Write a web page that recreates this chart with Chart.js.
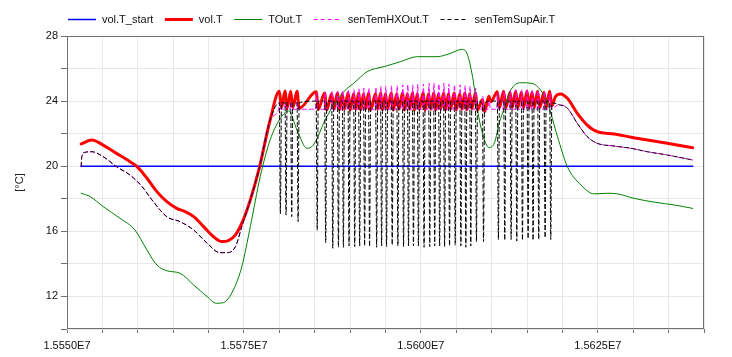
<!DOCTYPE html>
<html><head><meta charset="utf-8">
<script src="https://cdn.jsdelivr.net/npm/chart.js@4"></script>
<style>html,body{margin:0;padding:0;background:#fff;}#wrap{width:732px;height:357px;position:relative;}</style>
</head><body><div id="wrap"><canvas id="c"></canvas></div>
<script>
// ---------- data (time in s, temperature in °C) ----------
const xTickLabels = ['1.5550E7', '1.5575E7', '1.5600E7', '1.5625E7'];
const yTickLabels = ['12', '16', '20', '24', '28'];

// vol.T_start: constant
const startT = [15552000, 15638400];
const startV = [20, 20];

// TOut.T
const outT = [15552000,15553300,15555100,15557500,15559600,15561300,15562700,15564100,15566000,15567900,15569800,15571100,15572100,15573500,15574700,15575900,15577300,15578700,15580000,15581300,15582500,15583900,15584800,15586700,15588600,15589500,15590500,15592400,15594800,15597100,15599500,15602300,15604200,15605800,15606500,15607300,15608000,15608700,15609600,15610400,15611100,15611700,15612700,15614100,15615700,15616900,15617900,15619300,15620700,15622600,15624500,15626400,15627800,15630100,15633000,15635800,15638400];
const outV = [18.34,18.13,17.52,16.8,16.08,14.85,13.93,13.58,13.42,12.70,11.99,11.58,11.62,12.40,13.83,16.29,19.36,21.61,22.84,23.40,22.23,21.1,21.3,23.04,24.3,24.75,25.09,25.81,26.12,26.42,26.73,26.73,26.94,27.18,26.94,25.5,23.45,22.02,21.15,21.45,22.7,23.45,24.68,25.13,25.09,24.68,23.87,21.82,19.97,18.85,18.30,18.34,18.30,18.03,17.79,17.62,17.41];

// vol.T smooth parts
const volPreT = [15552000,15553500,15555100,15557000,15558900,15559900,15561300,15562700,15564100,15565500,15566700,15567900,15569300,15570700,15571900,15572800,15573800,15574900,15575900,15577100,15578700];
const volPreV = [21.37,21.61,21.30,20.79,20.28,19.97,19.26,18.44,17.82,17.41,17.21,16.90,16.29,15.67,15.37,15.43,15.78,16.70,17.93,19.77,22.84];
const volPostT = [15619000,15619700,15620700,15622100,15623500,15624900,15627300,15629700,15632000,15634800,15638400];
const volPostV = [24.27,24.44,24.17,23.25,22.53,22.12,21.98,21.78,21.61,21.41,21.14];

// senTemSupAir.T / senTemHXOut.T smooth parts (the two curves coincide there)
const supPreT = [15552000,15552100,15552500,15553500,15555100,15557000,15558900,15560600,15562200,15564100,15566000,15567900,15569800,15571600,15572600,15573800,15574700,15575900,15577100,15578700];
const supPreV = [20.0,20.6,20.85,20.89,20.59,19.97,19.46,18.75,17.82,16.90,16.59,16.08,15.27,14.69,14.69,15.06,16.29,17.93,19.77,22.84];
const supPostT = [15619500,15620700,15622100,15623500,15624900,15627300,15629700,15632000,15634800,15638400];
const supPostV = [23.78,23.56,22.64,21.82,21.41,21.24,21.10,20.89,20.69,20.38];

// on/off cycles of the coil: cycle start times and per-cycle levels
const cycT = [15580000,15580800,15581600,15582500,
  15585200,15586400,15587400,15588200,15588900,15589700,15590500,15591200,15591900,15592600,
  15593600,15594300,15595000,15595800,15596600,15597400,15598100,15598800,15599500,15600300,
  15601100,15601800,15602500,15603200,15603900,15604700,15605500,15606200,15606900,15607700,15608700,
  15609600,
  15610800,15611700,15612600,15613400,15614200,15615000,15615700,15616500,15617400,15618200];
const volPk = [24.6,24.62,24.6,24.6,
  24.58,24.5,24.45,24.5,24.45,24.5,24.45,24.5,24.45,24.5,
  24.45,24.5,24.45,24.5,24.45,24.5,24.45,24.5,24.45,24.5,
  24.45,24.5,24.45,24.5,24.45,24.5,24.45,24.5,24.45,24.5,24.1,
  24.3,
  24.58,24.6,24.55,24.6,24.55,24.6,24.55,24.6,24.55,24.6];
const volLo = [23.6,23.55,23.6,23.56,
  23.5,23.45,23.5,23.45,23.5,23.45,23.5,23.45,23.5,23.45,
  23.5,23.45,23.5,23.45,23.5,23.45,23.5,23.45,23.5,23.45,
  23.5,23.45,23.5,23.45,23.5,23.45,23.5,23.45,23.5,23.45,23.35,
  23.96,
  23.6,23.6,23.6,23.6,23.6,23.6,23.6,23.6,23.6,23.7];
const hxPk = [23.9,23.9,23.9,23.9,
  24.5,24.55,24.6,24.6,24.65,24.7,24.7,24.75,24.8,24.8,
  24.85,24.9,24.9,24.95,24.95,25.0,25.0,25.0,25.05,25.05,
  25.1,25.1,25.05,25.1,25.05,25.0,25.0,24.95,24.9,24.8,24.3,
  24.0,
  24.5,24.6,24.65,24.7,24.7,24.75,24.7,24.65,24.6,24.5];
const hxLo = [23.5,23.5,23.5,23.5,
  23.5,23.5,23.5,23.5,23.5,23.5,23.5,23.5,23.5,23.5,
  23.5,23.5,23.5,23.5,23.5,23.5,23.5,23.5,23.5,23.5,
  23.5,23.5,23.5,23.5,23.5,23.5,23.5,23.5,23.5,23.5,23.5,
  23.5,
  23.5,23.5,23.5,23.5,23.5,23.5,23.5,23.5,23.5,23.5];
const supTop = [23.9,23.9,23.9,23.9,
  24.0,24.0,24.0,24.0,24.0,24.0,24.0,24.0,24.0,24.0,
  24.0,24.0,24.0,24.0,24.0,24.0,24.0,24.0,24.0,24.0,
  24.0,24.0,24.0,24.0,24.0,24.0,24.0,24.0,24.0,24.0,23.8,
  24.0,
  24.0,24.0,24.0,24.0,24.0,24.0,24.0,24.0,24.0,23.9];
const supBot = [17.07,17.0,16.9,16.6,
  16.08,15.3,14.96,15.02,15.02,15.1,15.06,15.1,15.1,15.06,
  15.02,15.1,15.06,15.16,15.1,15.06,15.1,15.1,15.1,15.02,
  15.06,15.1,15.1,15.06,15.1,15.16,15.1,15.02,15.1,15.37,15.37,
  24.0,
  15.5,15.45,15.5,15.4,15.45,15.55,15.45,15.5,15.6,15.5];

// ---------- build point lists ----------
const PULSE = 300;   // duration of one coil pulse (s)
const pts = (ts, vs) => ts.map((t, i) => ({x: t, y: vs[i]}));
function volSeries() {
  const a = pts(volPreT, volPreV);
  cycT.forEach((t, i) => { a.push({x: t, y: volPk[i]}); a.push({x: t + PULSE, y: volLo[i]}); });
  return a.concat(pts(volPostT, volPostV));
}
function supSeries() {
  const a = pts(supPreT, supPreV);
  cycT.forEach((t, i) => { a.push({x: t, y: supTop[i]}); a.push({x: t + PULSE / 2, y: supBot[i]}); a.push({x: t + PULSE, y: supTop[i]}); });
  return a.concat(pts(supPostT, supPostV));
}
function hxSeries() {
  const a = pts(supPreT, supPreV);
  cycT.forEach((t, i) => { a.push({x: t - PULSE / 3, y: hxLo[i]}); a.push({x: t + PULSE / 6, y: hxPk[i]}); a.push({x: t + PULSE * 2 / 3, y: hxLo[i]}); });
  return a.concat(pts(supPostT, supPostV));
}

const FONT = '"Liberation Sans", Arial, sans-serif';
const frameLegend = {
  id: 'frameLegend',
  afterDraw(chart) {
    const ctx = chart.ctx, a = chart.chartArea;
    ctx.save();
    ctx.strokeStyle = '#707070'; ctx.lineWidth = 1; ctx.setLineDash([]);
    ctx.strokeRect(Math.round(a.left) + 0.5, Math.round(a.top) + 0.5, Math.round(a.right - a.left) - 1, Math.round(a.bottom - a.top) - 1);
    ctx.font = '11px ' + FONT; ctx.textBaseline = 'middle';
    let x = 68; const y = 19.5;
    chart.data.datasets.forEach(ds => {
      ctx.beginPath(); ctx.setLineDash(ds.borderDash || []);
      ctx.lineWidth = ds.borderWidth; ctx.strokeStyle = ds.borderColor;
      ctx.moveTo(x, y); ctx.lineTo(x + 28, y); ctx.stroke();
      ctx.setLineDash([]); ctx.fillStyle = '#111';
      ctx.fillText(ds.label, x + 34, y);
      x += 34 + ctx.measureText(ds.label).width + 11.5;
    });
    ctx.restore();
  }
};

new Chart(document.getElementById('c'), {
  type: 'line',
  data: { datasets: [
    {label: 'vol.T_start', data: pts(startT, startV), borderColor: '#0000ff', borderWidth: 1.5, order: 5},
    {label: 'vol.T', data: volSeries(), borderColor: '#ff0000', borderWidth: 3, order: 4},
    {label: 'TOut.T', data: pts(outT, outV), borderColor: '#008000', borderWidth: 1, order: 3},
    {label: 'senTemHXOut.T', data: hxSeries(), borderColor: '#ff00ff', borderWidth: 1, borderDash: [4, 3], order: 2},
    {label: 'senTemSupAir.T', data: supSeries(), borderColor: '#000000', borderWidth: 1, borderDash: [4, 3], order: 1}
  ]},
  options: {
    responsive: true, maintainAspectRatio: false, animation: false, devicePixelRatio: 1,
    layout: {padding: {top: 36, right: 28, left: 0, bottom: 0}},
    elements: {point: {radius: 0}, line: {borderCapStyle: 'round', borderJoinStyle: 'round', cubicInterpolationMode: 'monotone'}},
    plugins: {legend: {display: false}, tooltip: {enabled: false}},
    scales: {
      x: {type: 'linear', min: 15550000, max: 15640000,
        afterFit: s => { s.height = 28; },
        border: {display: false},
        grid: {color: '#e8e8e8', tickColor: '#707070', tickLength: 4},
        ticks: {stepSize: 5000, autoSkip: false, maxRotation: 0, padding: 6, color: '#111', font: {family: FONT, size: 11},
          callback: v => { const k = Math.round((v - 15550000) / 25000); return (v - 15550000) % 25000 === 0 ? xTickLabels[k] : ''; }}
      },
      y: {min: 10, max: 28,
        afterFit: s => { s.width = 67; },
        border: {display: false},
        grid: {color: '#e8e8e8', tickColor: '#707070', tickLength: 6},
        title: {display: true, text: '[°C]', color: '#222', font: {family: FONT, size: 11}, padding: {top: 13, bottom: 0}},
        ticks: {stepSize: 2, padding: 3, color: '#111', font: {family: FONT, size: 11},
          callback: v => (v % 4 === 0 && v >= 12) ? yTickLabels[(v - 12) / 4] : ''}
      }
    }
  },
  plugins: [frameLegend]
});
</script></body></html>
